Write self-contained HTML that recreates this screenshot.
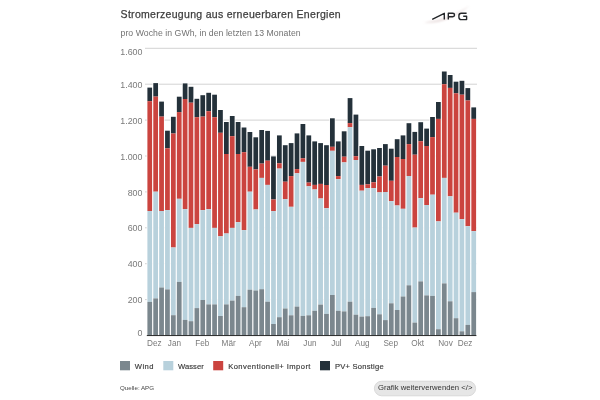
<!DOCTYPE html>
<html><head><meta charset="utf-8"><style>
html,body{margin:0;padding:0;background:#fff;}
body{width:600px;height:400px;overflow:hidden;position:relative;font-family:"Liberation Sans",sans-serif;}
svg{position:absolute;left:0;top:0;filter:blur(0.4px);}
text{font-family:"Liberation Sans",sans-serif;}
.yl{font-size:8.9px;fill:#7a7a7a;}
.ml{font-size:8.2px;fill:#7a7a7a;}
.lg{font-size:7.6px;fill:#383838;stroke:#383838;stroke-width:0.15px;}
</style></head><body>
<svg width="600" height="400" viewBox="0 0 600 400">
<text x="120.6" y="17.5" style="font-size:10.5px;letter-spacing:0.3px;fill:#3d3d3d;stroke:#3d3d3d;stroke-width:0.25px">Stromerzeugung aus erneuerbaren Energien</text>
<text x="120.5" y="35.5" style="font-size:8.7px;letter-spacing:0.05px;fill:#727272">pro Woche in GWh, in den letzten 13 Monaten</text>
<g>
<defs><filter id="bl" x="-20%" y="-50%" width="140%" height="200%"><feGaussianBlur stdDeviation="1.2"/></filter></defs>
<path d="M424,22.5 Q446,25 470,5.5 Q449,19.5 424,22.5 Z" fill="#e8dcdc" filter="url(#bl)"/>
<path d="M432.2,19.3 L444.3,13.3 V19.6 M448.3,19.6 V13.3 H452.8 Q454.5,13.3 454.5,15 Q454.5,16.7 452.8,16.7 H448.3 M466.6,13.3 H461.3 Q458.9,13.3 458.9,15.7 V17.2 Q458.9,19.6 461.3,19.6 H466.6 V16.3 H463.2" fill="none" stroke="#25282b" stroke-width="1.4" stroke-linejoin="round"/>
</g>
<rect x="145" y="47.80" width="332" height="1" fill="#d3d3d3"/>
<rect x="145" y="83.70" width="332" height="1" fill="#d3d3d3"/>
<rect x="145" y="119.60" width="332" height="1" fill="#d3d3d3"/>
<rect x="145" y="155.50" width="332" height="1" fill="#d3d3d3"/>
<rect x="145" y="191.40" width="332" height="1" fill="#d3d3d3"/>
<rect x="145" y="227.30" width="332" height="1" fill="#d3d3d3"/>
<rect x="145" y="263.20" width="332" height="1" fill="#d3d3d3"/>
<rect x="145" y="299.10" width="332" height="1" fill="#d3d3d3"/>
<rect x="146.70" y="87.10" width="6.15" height="248.40" fill="#fff"/>
<rect x="147.40" y="87.60" width="4.75" height="13.60" fill="#24313a"/>
<rect x="147.40" y="101.20" width="4.75" height="109.80" fill="#cb443f"/>
<rect x="147.40" y="211.00" width="4.75" height="90.90" fill="#b8d1dc"/>
<rect x="147.40" y="301.90" width="4.75" height="33.60" fill="#7b878e"/>
<rect x="152.59" y="82.60" width="6.15" height="252.90" fill="#fff"/>
<rect x="153.29" y="83.10" width="4.75" height="13.50" fill="#24313a"/>
<rect x="153.29" y="96.60" width="4.75" height="95.10" fill="#cb443f"/>
<rect x="153.29" y="191.70" width="4.75" height="106.70" fill="#b8d1dc"/>
<rect x="153.29" y="298.40" width="4.75" height="37.10" fill="#7b878e"/>
<rect x="158.48" y="101.10" width="6.15" height="234.40" fill="#fff"/>
<rect x="159.18" y="101.60" width="4.75" height="15.00" fill="#24313a"/>
<rect x="159.18" y="116.60" width="4.75" height="94.40" fill="#cb443f"/>
<rect x="159.18" y="211.00" width="4.75" height="76.50" fill="#b8d1dc"/>
<rect x="159.18" y="287.50" width="4.75" height="48.00" fill="#7b878e"/>
<rect x="164.37" y="130.20" width="6.15" height="205.30" fill="#fff"/>
<rect x="165.07" y="130.70" width="4.75" height="17.60" fill="#24313a"/>
<rect x="165.07" y="148.30" width="4.75" height="61.80" fill="#cb443f"/>
<rect x="165.07" y="210.10" width="4.75" height="79.30" fill="#b8d1dc"/>
<rect x="165.07" y="289.40" width="4.75" height="46.10" fill="#7b878e"/>
<rect x="170.26" y="116.30" width="6.15" height="219.20" fill="#fff"/>
<rect x="170.96" y="116.80" width="4.75" height="16.70" fill="#24313a"/>
<rect x="170.96" y="133.50" width="4.75" height="114.00" fill="#cb443f"/>
<rect x="170.96" y="247.50" width="4.75" height="67.70" fill="#b8d1dc"/>
<rect x="170.96" y="315.20" width="4.75" height="20.30" fill="#7b878e"/>
<rect x="176.15" y="96.20" width="6.15" height="239.30" fill="#fff"/>
<rect x="176.85" y="96.70" width="4.75" height="15.40" fill="#24313a"/>
<rect x="176.85" y="112.10" width="4.75" height="86.70" fill="#cb443f"/>
<rect x="176.85" y="198.80" width="4.75" height="83.10" fill="#b8d1dc"/>
<rect x="176.85" y="281.90" width="4.75" height="53.60" fill="#7b878e"/>
<rect x="182.04" y="82.90" width="6.15" height="252.60" fill="#fff"/>
<rect x="182.74" y="83.40" width="4.75" height="15.60" fill="#24313a"/>
<rect x="182.74" y="99.00" width="4.75" height="110.10" fill="#cb443f"/>
<rect x="182.74" y="209.10" width="4.75" height="110.80" fill="#b8d1dc"/>
<rect x="182.74" y="319.90" width="4.75" height="15.60" fill="#7b878e"/>
<rect x="187.93" y="86.30" width="6.15" height="249.20" fill="#fff"/>
<rect x="188.63" y="86.80" width="4.75" height="15.90" fill="#24313a"/>
<rect x="188.63" y="102.70" width="4.75" height="125.20" fill="#cb443f"/>
<rect x="188.63" y="227.90" width="4.75" height="93.30" fill="#b8d1dc"/>
<rect x="188.63" y="321.20" width="4.75" height="14.30" fill="#7b878e"/>
<rect x="193.82" y="98.30" width="6.15" height="237.20" fill="#fff"/>
<rect x="194.52" y="98.80" width="4.75" height="18.40" fill="#24313a"/>
<rect x="194.52" y="117.20" width="4.75" height="106.90" fill="#cb443f"/>
<rect x="194.52" y="224.10" width="4.75" height="84.00" fill="#b8d1dc"/>
<rect x="194.52" y="308.10" width="4.75" height="27.40" fill="#7b878e"/>
<rect x="199.71" y="94.70" width="6.15" height="240.80" fill="#fff"/>
<rect x="200.41" y="95.20" width="4.75" height="21.40" fill="#24313a"/>
<rect x="200.41" y="116.60" width="4.75" height="93.50" fill="#cb443f"/>
<rect x="200.41" y="210.10" width="4.75" height="89.90" fill="#b8d1dc"/>
<rect x="200.41" y="300.00" width="4.75" height="35.50" fill="#7b878e"/>
<rect x="205.60" y="92.30" width="6.15" height="243.20" fill="#fff"/>
<rect x="206.30" y="92.80" width="4.75" height="18.40" fill="#24313a"/>
<rect x="206.30" y="111.20" width="4.75" height="97.90" fill="#cb443f"/>
<rect x="206.30" y="209.10" width="4.75" height="95.30" fill="#b8d1dc"/>
<rect x="206.30" y="304.40" width="4.75" height="31.10" fill="#7b878e"/>
<rect x="211.49" y="94.20" width="6.15" height="241.30" fill="#fff"/>
<rect x="212.19" y="94.70" width="4.75" height="22.50" fill="#24313a"/>
<rect x="212.19" y="117.20" width="4.75" height="110.70" fill="#cb443f"/>
<rect x="212.19" y="227.90" width="4.75" height="76.50" fill="#b8d1dc"/>
<rect x="212.19" y="304.40" width="4.75" height="31.10" fill="#7b878e"/>
<rect x="217.38" y="109.50" width="6.15" height="226.00" fill="#fff"/>
<rect x="218.08" y="110.00" width="4.75" height="22.80" fill="#24313a"/>
<rect x="218.08" y="132.80" width="4.75" height="103.50" fill="#cb443f"/>
<rect x="218.08" y="236.30" width="4.75" height="79.70" fill="#b8d1dc"/>
<rect x="218.08" y="316.00" width="4.75" height="19.50" fill="#7b878e"/>
<rect x="223.27" y="121.50" width="6.15" height="214.00" fill="#fff"/>
<rect x="223.97" y="122.00" width="4.75" height="32.00" fill="#24313a"/>
<rect x="223.97" y="154.00" width="4.75" height="79.50" fill="#cb443f"/>
<rect x="223.97" y="233.50" width="4.75" height="70.90" fill="#b8d1dc"/>
<rect x="223.97" y="304.40" width="4.75" height="31.10" fill="#7b878e"/>
<rect x="229.16" y="115.50" width="6.15" height="220.00" fill="#fff"/>
<rect x="229.86" y="116.00" width="4.75" height="20.20" fill="#24313a"/>
<rect x="229.86" y="136.20" width="4.75" height="91.70" fill="#cb443f"/>
<rect x="229.86" y="227.90" width="4.75" height="72.70" fill="#b8d1dc"/>
<rect x="229.86" y="300.60" width="4.75" height="34.90" fill="#7b878e"/>
<rect x="235.05" y="121.50" width="6.15" height="214.00" fill="#fff"/>
<rect x="235.75" y="122.00" width="4.75" height="32.00" fill="#24313a"/>
<rect x="235.75" y="154.00" width="4.75" height="68.20" fill="#cb443f"/>
<rect x="235.75" y="222.20" width="4.75" height="73.70" fill="#b8d1dc"/>
<rect x="235.75" y="295.90" width="4.75" height="39.60" fill="#7b878e"/>
<rect x="240.94" y="127.00" width="6.15" height="208.50" fill="#fff"/>
<rect x="241.64" y="127.50" width="4.75" height="24.70" fill="#24313a"/>
<rect x="241.64" y="152.20" width="4.75" height="77.90" fill="#cb443f"/>
<rect x="241.64" y="230.10" width="4.75" height="77.10" fill="#b8d1dc"/>
<rect x="241.64" y="307.20" width="4.75" height="28.30" fill="#7b878e"/>
<rect x="246.83" y="131.50" width="6.15" height="204.00" fill="#fff"/>
<rect x="247.53" y="132.00" width="4.75" height="34.80" fill="#24313a"/>
<rect x="247.53" y="166.80" width="4.75" height="24.90" fill="#cb443f"/>
<rect x="247.53" y="191.70" width="4.75" height="98.00" fill="#b8d1dc"/>
<rect x="247.53" y="289.70" width="4.75" height="45.80" fill="#7b878e"/>
<rect x="252.72" y="136.80" width="6.15" height="198.70" fill="#fff"/>
<rect x="253.42" y="137.30" width="4.75" height="32.10" fill="#24313a"/>
<rect x="253.42" y="169.40" width="4.75" height="40.10" fill="#cb443f"/>
<rect x="253.42" y="209.50" width="4.75" height="81.00" fill="#b8d1dc"/>
<rect x="253.42" y="290.50" width="4.75" height="45.00" fill="#7b878e"/>
<rect x="258.61" y="129.50" width="6.15" height="206.00" fill="#fff"/>
<rect x="259.31" y="130.00" width="4.75" height="33.60" fill="#24313a"/>
<rect x="259.31" y="163.60" width="4.75" height="14.30" fill="#cb443f"/>
<rect x="259.31" y="177.90" width="4.75" height="111.30" fill="#b8d1dc"/>
<rect x="259.31" y="289.20" width="4.75" height="46.30" fill="#7b878e"/>
<rect x="264.50" y="130.40" width="6.15" height="205.10" fill="#fff"/>
<rect x="265.20" y="130.90" width="4.75" height="29.80" fill="#24313a"/>
<rect x="265.20" y="160.70" width="4.75" height="24.20" fill="#cb443f"/>
<rect x="265.20" y="184.90" width="4.75" height="116.80" fill="#b8d1dc"/>
<rect x="265.20" y="301.70" width="4.75" height="33.80" fill="#7b878e"/>
<rect x="270.39" y="155.90" width="6.15" height="179.60" fill="#fff"/>
<rect x="271.09" y="156.40" width="4.75" height="43.10" fill="#24313a"/>
<rect x="271.09" y="199.50" width="4.75" height="11.60" fill="#cb443f"/>
<rect x="271.09" y="211.10" width="4.75" height="112.90" fill="#b8d1dc"/>
<rect x="271.09" y="324.00" width="4.75" height="11.50" fill="#7b878e"/>
<rect x="276.28" y="134.90" width="6.15" height="200.60" fill="#fff"/>
<rect x="276.98" y="135.40" width="4.75" height="27.90" fill="#24313a"/>
<rect x="276.98" y="163.30" width="4.75" height="5.30" fill="#cb443f"/>
<rect x="276.98" y="168.60" width="4.75" height="148.60" fill="#b8d1dc"/>
<rect x="276.98" y="317.20" width="4.75" height="18.30" fill="#7b878e"/>
<rect x="282.17" y="144.70" width="6.15" height="190.80" fill="#fff"/>
<rect x="282.87" y="145.20" width="4.75" height="36.50" fill="#24313a"/>
<rect x="282.87" y="181.70" width="4.75" height="17.40" fill="#cb443f"/>
<rect x="282.87" y="199.10" width="4.75" height="109.40" fill="#b8d1dc"/>
<rect x="282.87" y="308.50" width="4.75" height="27.00" fill="#7b878e"/>
<rect x="288.06" y="142.60" width="6.15" height="192.90" fill="#fff"/>
<rect x="288.76" y="143.10" width="4.75" height="33.00" fill="#24313a"/>
<rect x="288.76" y="176.10" width="4.75" height="30.70" fill="#cb443f"/>
<rect x="288.76" y="206.80" width="4.75" height="108.50" fill="#b8d1dc"/>
<rect x="288.76" y="315.30" width="4.75" height="20.20" fill="#7b878e"/>
<rect x="293.95" y="132.90" width="6.15" height="202.60" fill="#fff"/>
<rect x="294.65" y="133.40" width="4.75" height="35.70" fill="#24313a"/>
<rect x="294.65" y="169.10" width="4.75" height="4.20" fill="#cb443f"/>
<rect x="294.65" y="173.30" width="4.75" height="133.30" fill="#b8d1dc"/>
<rect x="294.65" y="306.60" width="4.75" height="28.90" fill="#7b878e"/>
<rect x="299.84" y="123.50" width="6.15" height="212.00" fill="#fff"/>
<rect x="300.54" y="124.00" width="4.75" height="34.30" fill="#24313a"/>
<rect x="300.54" y="158.30" width="4.75" height="3.60" fill="#cb443f"/>
<rect x="300.54" y="161.90" width="4.75" height="154.00" fill="#b8d1dc"/>
<rect x="300.54" y="315.90" width="4.75" height="19.60" fill="#7b878e"/>
<rect x="305.73" y="134.90" width="6.15" height="200.60" fill="#fff"/>
<rect x="306.43" y="135.40" width="4.75" height="47.20" fill="#24313a"/>
<rect x="306.43" y="182.60" width="4.75" height="3.70" fill="#cb443f"/>
<rect x="306.43" y="186.30" width="4.75" height="129.00" fill="#b8d1dc"/>
<rect x="306.43" y="315.30" width="4.75" height="20.20" fill="#7b878e"/>
<rect x="311.62" y="140.90" width="6.15" height="194.60" fill="#fff"/>
<rect x="312.32" y="141.40" width="4.75" height="43.50" fill="#24313a"/>
<rect x="312.32" y="184.90" width="4.75" height="4.60" fill="#cb443f"/>
<rect x="312.32" y="189.50" width="4.75" height="121.30" fill="#b8d1dc"/>
<rect x="312.32" y="310.80" width="4.75" height="24.70" fill="#7b878e"/>
<rect x="317.51" y="142.60" width="6.15" height="192.90" fill="#fff"/>
<rect x="318.21" y="143.10" width="4.75" height="40.80" fill="#24313a"/>
<rect x="318.21" y="183.90" width="4.75" height="14.60" fill="#cb443f"/>
<rect x="318.21" y="198.50" width="4.75" height="106.10" fill="#b8d1dc"/>
<rect x="318.21" y="304.60" width="4.75" height="30.90" fill="#7b878e"/>
<rect x="323.40" y="144.70" width="6.15" height="190.80" fill="#fff"/>
<rect x="324.10" y="145.20" width="4.75" height="39.80" fill="#24313a"/>
<rect x="324.10" y="185.00" width="4.75" height="23.20" fill="#cb443f"/>
<rect x="324.10" y="208.20" width="4.75" height="105.70" fill="#b8d1dc"/>
<rect x="324.10" y="313.90" width="4.75" height="21.60" fill="#7b878e"/>
<rect x="329.29" y="117.80" width="6.15" height="217.70" fill="#fff"/>
<rect x="329.99" y="118.30" width="4.75" height="28.50" fill="#24313a"/>
<rect x="329.99" y="146.80" width="4.75" height="4.00" fill="#cb443f"/>
<rect x="329.99" y="150.80" width="4.75" height="144.20" fill="#b8d1dc"/>
<rect x="329.99" y="295.00" width="4.75" height="40.50" fill="#7b878e"/>
<rect x="335.18" y="140.90" width="6.15" height="194.60" fill="#fff"/>
<rect x="335.88" y="141.40" width="4.75" height="34.70" fill="#24313a"/>
<rect x="335.88" y="176.10" width="4.75" height="3.00" fill="#cb443f"/>
<rect x="335.88" y="179.10" width="4.75" height="131.70" fill="#b8d1dc"/>
<rect x="335.88" y="310.80" width="4.75" height="24.70" fill="#7b878e"/>
<rect x="341.07" y="130.80" width="6.15" height="204.70" fill="#fff"/>
<rect x="341.77" y="131.30" width="4.75" height="25.40" fill="#24313a"/>
<rect x="341.77" y="156.70" width="4.75" height="5.70" fill="#cb443f"/>
<rect x="341.77" y="162.40" width="4.75" height="149.00" fill="#b8d1dc"/>
<rect x="341.77" y="311.40" width="4.75" height="24.10" fill="#7b878e"/>
<rect x="346.96" y="97.60" width="6.15" height="237.90" fill="#fff"/>
<rect x="347.66" y="98.10" width="4.75" height="25.00" fill="#24313a"/>
<rect x="347.66" y="123.10" width="4.75" height="4.10" fill="#cb443f"/>
<rect x="347.66" y="127.20" width="4.75" height="174.50" fill="#b8d1dc"/>
<rect x="347.66" y="301.70" width="4.75" height="33.80" fill="#7b878e"/>
<rect x="352.85" y="114.10" width="6.15" height="221.40" fill="#fff"/>
<rect x="353.55" y="114.60" width="4.75" height="41.60" fill="#24313a"/>
<rect x="353.55" y="156.20" width="4.75" height="3.80" fill="#cb443f"/>
<rect x="353.55" y="160.00" width="4.75" height="154.70" fill="#b8d1dc"/>
<rect x="353.55" y="314.70" width="4.75" height="20.80" fill="#7b878e"/>
<rect x="358.74" y="145.50" width="6.15" height="190.00" fill="#fff"/>
<rect x="359.44" y="146.00" width="4.75" height="38.90" fill="#24313a"/>
<rect x="359.44" y="184.90" width="4.75" height="5.80" fill="#cb443f"/>
<rect x="359.44" y="190.70" width="4.75" height="125.90" fill="#b8d1dc"/>
<rect x="359.44" y="316.60" width="4.75" height="18.90" fill="#7b878e"/>
<rect x="364.63" y="150.20" width="6.15" height="185.30" fill="#fff"/>
<rect x="365.33" y="150.70" width="4.75" height="33.60" fill="#24313a"/>
<rect x="365.33" y="184.30" width="4.75" height="3.80" fill="#cb443f"/>
<rect x="365.33" y="188.10" width="4.75" height="128.10" fill="#b8d1dc"/>
<rect x="365.33" y="316.20" width="4.75" height="19.30" fill="#7b878e"/>
<rect x="370.52" y="148.80" width="6.15" height="186.70" fill="#fff"/>
<rect x="371.22" y="149.30" width="4.75" height="33.00" fill="#24313a"/>
<rect x="371.22" y="182.30" width="4.75" height="5.80" fill="#cb443f"/>
<rect x="371.22" y="188.10" width="4.75" height="119.80" fill="#b8d1dc"/>
<rect x="371.22" y="307.90" width="4.75" height="27.60" fill="#7b878e"/>
<rect x="376.41" y="147.50" width="6.15" height="188.00" fill="#fff"/>
<rect x="377.11" y="148.00" width="4.75" height="28.50" fill="#24313a"/>
<rect x="377.11" y="176.50" width="4.75" height="15.90" fill="#cb443f"/>
<rect x="377.11" y="192.40" width="4.75" height="121.90" fill="#b8d1dc"/>
<rect x="377.11" y="314.30" width="4.75" height="21.20" fill="#7b878e"/>
<rect x="382.30" y="143.60" width="6.15" height="191.90" fill="#fff"/>
<rect x="383.00" y="144.10" width="4.75" height="21.60" fill="#24313a"/>
<rect x="383.00" y="165.70" width="4.75" height="26.30" fill="#cb443f"/>
<rect x="383.00" y="192.00" width="4.75" height="128.10" fill="#b8d1dc"/>
<rect x="383.00" y="320.10" width="4.75" height="15.40" fill="#7b878e"/>
<rect x="388.19" y="148.20" width="6.15" height="187.30" fill="#fff"/>
<rect x="388.89" y="148.70" width="4.75" height="32.10" fill="#24313a"/>
<rect x="388.89" y="180.80" width="4.75" height="20.30" fill="#cb443f"/>
<rect x="388.89" y="201.10" width="4.75" height="102.20" fill="#b8d1dc"/>
<rect x="388.89" y="303.30" width="4.75" height="32.20" fill="#7b878e"/>
<rect x="394.08" y="138.70" width="6.15" height="196.80" fill="#fff"/>
<rect x="394.78" y="139.20" width="4.75" height="17.80" fill="#24313a"/>
<rect x="394.78" y="157.00" width="4.75" height="48.50" fill="#cb443f"/>
<rect x="394.78" y="205.50" width="4.75" height="104.50" fill="#b8d1dc"/>
<rect x="394.78" y="310.00" width="4.75" height="25.50" fill="#7b878e"/>
<rect x="399.97" y="134.90" width="6.15" height="200.60" fill="#fff"/>
<rect x="400.67" y="135.40" width="4.75" height="23.60" fill="#24313a"/>
<rect x="400.67" y="159.00" width="4.75" height="49.80" fill="#cb443f"/>
<rect x="400.67" y="208.80" width="4.75" height="87.70" fill="#b8d1dc"/>
<rect x="400.67" y="296.50" width="4.75" height="39.00" fill="#7b878e"/>
<rect x="405.86" y="122.70" width="6.15" height="212.80" fill="#fff"/>
<rect x="406.56" y="123.20" width="4.75" height="20.90" fill="#24313a"/>
<rect x="406.56" y="144.10" width="4.75" height="31.90" fill="#cb443f"/>
<rect x="406.56" y="176.00" width="4.75" height="109.30" fill="#b8d1dc"/>
<rect x="406.56" y="285.30" width="4.75" height="50.20" fill="#7b878e"/>
<rect x="411.75" y="131.40" width="6.15" height="204.10" fill="#fff"/>
<rect x="412.45" y="131.90" width="4.75" height="22.80" fill="#24313a"/>
<rect x="412.45" y="154.70" width="4.75" height="72.90" fill="#cb443f"/>
<rect x="412.45" y="227.60" width="4.75" height="95.00" fill="#b8d1dc"/>
<rect x="412.45" y="322.60" width="4.75" height="12.90" fill="#7b878e"/>
<rect x="417.64" y="121.70" width="6.15" height="213.80" fill="#fff"/>
<rect x="418.34" y="122.20" width="4.75" height="19.00" fill="#24313a"/>
<rect x="418.34" y="141.20" width="4.75" height="57.00" fill="#cb443f"/>
<rect x="418.34" y="198.20" width="4.75" height="83.20" fill="#b8d1dc"/>
<rect x="418.34" y="281.40" width="4.75" height="54.10" fill="#7b878e"/>
<rect x="423.53" y="128.10" width="6.15" height="207.40" fill="#fff"/>
<rect x="424.23" y="128.60" width="4.75" height="17.40" fill="#24313a"/>
<rect x="424.23" y="146.00" width="4.75" height="59.00" fill="#cb443f"/>
<rect x="424.23" y="205.00" width="4.75" height="90.40" fill="#b8d1dc"/>
<rect x="424.23" y="295.40" width="4.75" height="40.10" fill="#7b878e"/>
<rect x="429.42" y="116.50" width="6.15" height="219.00" fill="#fff"/>
<rect x="430.12" y="117.00" width="4.75" height="20.10" fill="#24313a"/>
<rect x="430.12" y="137.10" width="4.75" height="57.60" fill="#cb443f"/>
<rect x="430.12" y="194.70" width="4.75" height="101.20" fill="#b8d1dc"/>
<rect x="430.12" y="295.90" width="4.75" height="39.60" fill="#7b878e"/>
<rect x="435.31" y="101.50" width="6.15" height="234.00" fill="#fff"/>
<rect x="436.01" y="102.00" width="4.75" height="16.90" fill="#24313a"/>
<rect x="436.01" y="118.90" width="4.75" height="102.50" fill="#cb443f"/>
<rect x="436.01" y="221.40" width="4.75" height="107.80" fill="#b8d1dc"/>
<rect x="436.01" y="329.20" width="4.75" height="6.30" fill="#7b878e"/>
<rect x="441.20" y="71.00" width="6.15" height="264.50" fill="#fff"/>
<rect x="441.90" y="71.50" width="4.75" height="12.70" fill="#24313a"/>
<rect x="441.90" y="84.20" width="4.75" height="93.70" fill="#cb443f"/>
<rect x="441.90" y="177.90" width="4.75" height="105.50" fill="#b8d1dc"/>
<rect x="441.90" y="283.40" width="4.75" height="52.10" fill="#7b878e"/>
<rect x="447.09" y="74.50" width="6.15" height="261.00" fill="#fff"/>
<rect x="447.79" y="75.00" width="4.75" height="12.90" fill="#24313a"/>
<rect x="447.79" y="87.90" width="4.75" height="108.40" fill="#cb443f"/>
<rect x="447.79" y="196.30" width="4.75" height="105.00" fill="#b8d1dc"/>
<rect x="447.79" y="301.30" width="4.75" height="34.20" fill="#7b878e"/>
<rect x="452.98" y="81.20" width="6.15" height="254.30" fill="#fff"/>
<rect x="453.68" y="81.70" width="4.75" height="11.60" fill="#24313a"/>
<rect x="453.68" y="93.30" width="4.75" height="119.40" fill="#cb443f"/>
<rect x="453.68" y="212.70" width="4.75" height="105.50" fill="#b8d1dc"/>
<rect x="453.68" y="318.20" width="4.75" height="17.30" fill="#7b878e"/>
<rect x="458.87" y="80.30" width="6.15" height="255.20" fill="#fff"/>
<rect x="459.57" y="80.80" width="4.75" height="13.90" fill="#24313a"/>
<rect x="459.57" y="94.70" width="4.75" height="124.40" fill="#cb443f"/>
<rect x="459.57" y="219.10" width="4.75" height="112.20" fill="#b8d1dc"/>
<rect x="459.57" y="331.30" width="4.75" height="4.20" fill="#7b878e"/>
<rect x="464.76" y="87.60" width="6.15" height="247.90" fill="#fff"/>
<rect x="465.46" y="88.10" width="4.75" height="12.40" fill="#24313a"/>
<rect x="465.46" y="100.50" width="4.75" height="125.70" fill="#cb443f"/>
<rect x="465.46" y="226.20" width="4.75" height="98.70" fill="#b8d1dc"/>
<rect x="465.46" y="324.90" width="4.75" height="10.60" fill="#7b878e"/>
<rect x="470.65" y="106.90" width="6.15" height="228.60" fill="#fff"/>
<rect x="471.35" y="107.40" width="4.75" height="11.50" fill="#24313a"/>
<rect x="471.35" y="118.90" width="4.75" height="112.20" fill="#cb443f"/>
<rect x="471.35" y="231.10" width="4.75" height="61.00" fill="#b8d1dc"/>
<rect x="471.35" y="292.10" width="4.75" height="43.40" fill="#7b878e"/>
<rect x="146.8" y="335.10" width="329.6" height="0.95" fill="#222"/>
<text x="142.5" y="55.0" text-anchor="end" class="yl">1.600</text>
<text x="142.5" y="87.8" text-anchor="end" class="yl">1.400</text>
<text x="142.5" y="123.7" text-anchor="end" class="yl">1.200</text>
<text x="142.5" y="159.6" text-anchor="end" class="yl">1.000</text>
<text x="142.5" y="195.5" text-anchor="end" class="yl">800</text>
<text x="142.5" y="231.4" text-anchor="end" class="yl">600</text>
<text x="142.5" y="267.3" text-anchor="end" class="yl">400</text>
<text x="142.5" y="303.2" text-anchor="end" class="yl">200</text>
<text x="142.5" y="336.0" text-anchor="end" class="yl">0</text>
<text x="147.1" y="346.3" class="ml">Dez</text>
<text x="167.8" y="346.3" class="ml">Jan</text>
<text x="195.2" y="346.3" class="ml">Feb</text>
<text x="221.6" y="346.3" class="ml">Mär</text>
<text x="249.0" y="346.3" class="ml">Apr</text>
<text x="276.5" y="346.3" class="ml">Mai</text>
<text x="303.3" y="346.3" class="ml">Jun</text>
<text x="331.2" y="346.3" class="ml">Jul</text>
<text x="355.0" y="346.3" class="ml">Aug</text>
<text x="383.4" y="346.3" class="ml">Sep</text>
<text x="411.3" y="346.3" class="ml">Okt</text>
<text x="438.2" y="346.3" class="ml">Nov</text>
<text x="457.8" y="346.3" class="ml">Dez</text>
<rect x="120" y="361" width="10" height="9.3" fill="#7b878e"/>
<text x="134.8" y="368.8" class="lg" style="letter-spacing:0.43px">Wind</text>
<rect x="163.3" y="361" width="10" height="9.3" fill="#b8d1dc"/>
<text x="178" y="368.8" class="lg" style="letter-spacing:0.05px">Wasser</text>
<rect x="213.2" y="361" width="10" height="9.3" fill="#cb443f"/>
<text x="228.2" y="368.8" class="lg" style="letter-spacing:0.43px">Konventionell+ Import</text>
<rect x="320" y="361" width="10" height="9.3" fill="#24313a"/>
<text x="335" y="368.8" class="lg" style="letter-spacing:0.22px">PV+ Sonstige</text>
<text x="120" y="390.2" style="font-size:6.2px;fill:#444">Quelle: APG</text>
<rect x="374.4" y="381.2" width="101.2" height="14.6" rx="7.3" fill="#e6e6e6" stroke="#d2d2d2" stroke-width="0.8"/>
<text x="377.9" y="390.1" style="font-size:7.7px;letter-spacing:0.02px;fill:#333">Grafik weiterverwenden &lt;/&gt;</text>
</svg>
</body></html>
